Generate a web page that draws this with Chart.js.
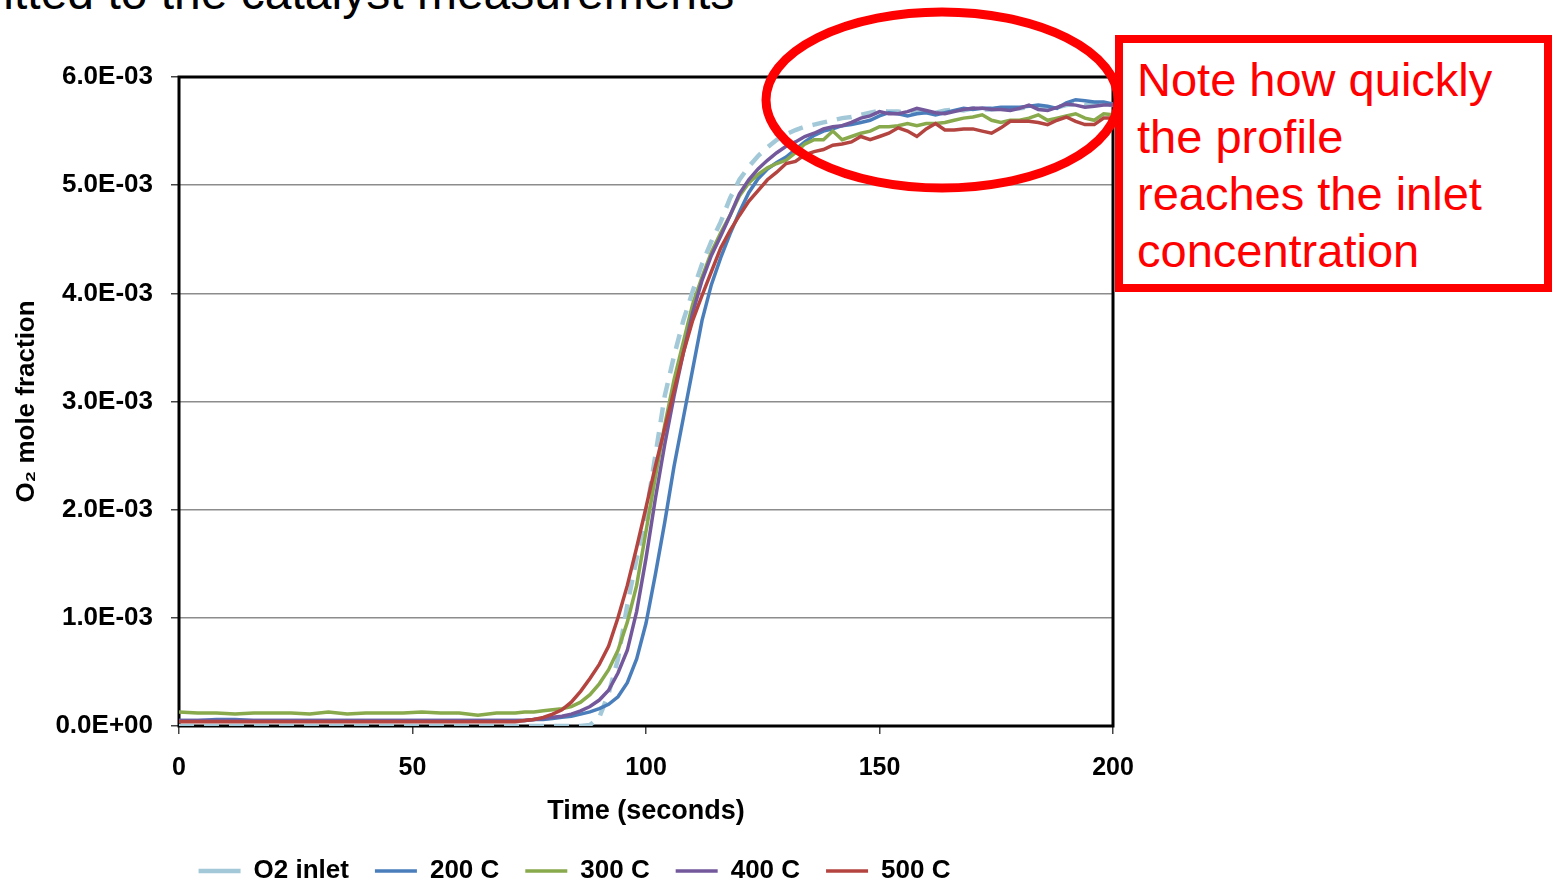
<!DOCTYPE html>
<html lang="en">
<head>
<meta charset="UTF-8">
<title>O2 mole fraction vs time</title>
<script src="https://cdn.jsdelivr.net/npm/chart.js"></script>
<style>
  html, body { margin: 0; padding: 0; background: #fff; overflow: hidden; }
  #wrap { position: relative; width: 1557px; height: 882px; overflow: hidden; }
  #chart { position: absolute; left: 0; top: 2px; }
  #over { position: absolute; left: 0; top: 0; pointer-events: none; }
  .cut {
    position: absolute; left: -10px; top: -35px; white-space: nowrap;
    font: 48px "Liberation Sans", Arial, sans-serif; color: #000;
  }
  .note {
    position: absolute; left: 1115px; top: 35px; width: 437px; height: 257px;
    box-sizing: border-box; border: 8px solid #f00; background: #fff;
    padding: 8px 0 0 14px;
    font: 47px/57px "Liberation Sans", Arial, sans-serif; color: #f00;
  }
</style>
</head>
<body>
<div id="wrap">
  <div class="cut">fitted to the catalyst measurements</div>
  <canvas id="chart" width="1557" height="892"></canvas>
  <svg id="over" width="1557" height="882">
    <ellipse cx="942" cy="100" rx="176" ry="88" fill="none" stroke="#f00" stroke-width="9"/>
  </svg>
  <div class="note">Note how quickly<br>the profile<br>reaches the inlet<br>concentration</div>
</div>

<script>
    // time in seconds; values in units of 1E-03 mole fraction
    const time = [
        0, 4, 8, 12, 16, 20, 24, 28, 32, 36, 40, 44, 48, 52, 56, 60, 64, 68, 72,
        74, 76, 78, 80, 82, 84, 86, 88, 90, 92,
        94, 96, 98, 100, 102, 104, 106, 108, 110, 112,
        114, 116, 118, 120, 122, 124, 126, 128, 130, 132,
        134, 136, 138, 140, 142, 144, 146, 148, 150, 152,
        154, 156, 158, 160, 162, 164, 166, 168, 170, 172,
        174, 176, 178, 180, 182, 184, 186, 188, 190, 192,
        194, 196, 198, 200
    ];

    const o2Inlet = [
        0, 0, 0, 0, 0, 0, 0, 0, 0, 0, 0, 0, 0, 0, 0, 0, 0, 0, 0,
        0, 0, 0, 0, 0, 0, 0, 0.01, 0.08, 0.30,
        0.62, 1.12, 1.55, 1.95, 2.50, 3.05, 3.42, 3.75, 4.02, 4.27,
        4.48, 4.66, 4.88, 5.05, 5.17, 5.27, 5.35, 5.42, 5.47, 5.51,
        5.54, 5.56, 5.58, 5.60, 5.62, 5.63, 5.65, 5.67, 5.69, 5.68,
        5.68, 5.67, 5.69, 5.68, 5.67, 5.69, 5.70, 5.69, 5.71, 5.70,
        5.70, 5.71, 5.71, 5.71, 5.72, 5.72, 5.71, 5.72, 5.74, 5.75,
        5.74, 5.74, 5.75, 5.74
    ];

    const c200 = [
        0.05, 0.05, 0.06, 0.06, 0.05, 0.05, 0.05, 0.05, 0.05, 0.05, 0.05, 0.05, 0.05, 0.05, 0.05, 0.05, 0.05, 0.05, 0.05,
        0.05, 0.06, 0.06, 0.07, 0.08, 0.09, 0.11, 0.13, 0.16, 0.20,
        0.27, 0.40, 0.62, 0.95, 1.40, 1.88, 2.40, 2.85, 3.30, 3.75,
        4.08, 4.33, 4.55, 4.75, 4.93, 5.06, 5.15, 5.21, 5.26, 5.33,
        5.40, 5.46, 5.50, 5.52, 5.55, 5.56, 5.58, 5.60, 5.64, 5.67,
        5.66, 5.64, 5.66, 5.67, 5.65, 5.67, 5.69, 5.71, 5.70, 5.71,
        5.71, 5.72, 5.72, 5.72, 5.73, 5.74, 5.73, 5.71, 5.76, 5.79,
        5.78, 5.77, 5.77, 5.75
    ];

    const c300 = [
        0.13, 0.12, 0.12, 0.11, 0.12, 0.12, 0.12, 0.11, 0.13, 0.11, 0.12, 0.12, 0.12, 0.13, 0.12, 0.12, 0.10, 0.12, 0.12,
        0.13, 0.13, 0.14, 0.15, 0.16, 0.18, 0.22, 0.29, 0.39, 0.52,
        0.70, 0.96, 1.30, 1.80, 2.30, 2.78, 3.20, 3.55, 3.90, 4.15,
        4.38, 4.56, 4.72, 4.90, 5.02, 5.10, 5.16, 5.20, 5.23, 5.30,
        5.38, 5.42, 5.42, 5.50, 5.42, 5.45, 5.48, 5.50, 5.54, 5.54,
        5.55, 5.57, 5.55, 5.57, 5.57, 5.58, 5.60, 5.62, 5.63, 5.65,
        5.60, 5.58, 5.60, 5.60, 5.62, 5.65, 5.60, 5.62, 5.64, 5.66,
        5.62, 5.60, 5.66, 5.65
    ];

    const c400 = [
        0.05, 0.05, 0.05, 0.05, 0.05, 0.05, 0.05, 0.05, 0.05, 0.05, 0.05, 0.05, 0.05, 0.05, 0.05, 0.05, 0.05, 0.05, 0.05,
        0.05, 0.06, 0.07, 0.08, 0.09, 0.11, 0.14, 0.18, 0.24, 0.33,
        0.49, 0.70, 1.06, 1.55, 2.10, 2.60, 3.05, 3.45, 3.82, 4.12,
        4.35, 4.53, 4.72, 4.92, 5.05, 5.15, 5.23, 5.30, 5.36, 5.40,
        5.45, 5.48, 5.52, 5.54, 5.55, 5.58, 5.62, 5.64, 5.68, 5.66,
        5.66, 5.68, 5.71, 5.69, 5.67, 5.66, 5.68, 5.70, 5.71, 5.71,
        5.70, 5.70, 5.69, 5.71, 5.74, 5.70, 5.69, 5.72, 5.75, 5.74,
        5.72, 5.73, 5.74, 5.74
    ];

    const c500 = [
        0.04, 0.04, 0.04, 0.04, 0.04, 0.04, 0.04, 0.04, 0.04, 0.04, 0.04, 0.04, 0.04, 0.04, 0.04, 0.04, 0.04, 0.04, 0.04,
        0.05, 0.06, 0.08, 0.11, 0.15, 0.22, 0.32, 0.44, 0.57, 0.74,
        1.00, 1.30, 1.65, 2.02, 2.40, 2.75, 3.10, 3.45, 3.75, 3.98,
        4.20, 4.42, 4.58, 4.72, 4.85, 4.95, 5.05, 5.12, 5.20, 5.22,
        5.28, 5.31, 5.33, 5.37, 5.38, 5.40, 5.45, 5.42, 5.45, 5.48,
        5.53, 5.50, 5.45, 5.52, 5.57, 5.51, 5.51, 5.52, 5.52, 5.50,
        5.48, 5.53, 5.59, 5.59, 5.59, 5.58, 5.56, 5.60, 5.63, 5.59,
        5.56, 5.56, 5.62, 5.62
    ];

    const seriesNames = ['O2 inlet', '200 C', '300 C', '400 C', '500 C'];
    const seriesColors = ['#A3C9D9', '#4A7EBB', '#88A94C', '#73589C', '#B4443F'];
    const yTicks = [0, 1, 2, 3, 4, 5, 6];

    const FONT = '"Liberation Sans", Arial, sans-serif';

    const puntos = arr => arr.map((v, i) => ({ x: time[i], y: v / 1000 }));

    const marco = {
        id: 'marco',
        afterLayout(chart) {
            // la leyenda del original esta algo corrida a la derecha
            chart.legend.left += 18;
            chart.legend.right += 18;
        },
        beforeDatasetsDraw(chart) {
            const { ctx, chartArea: a } = chart;
            ctx.save();
            ctx.strokeStyle = '#000';
            ctx.lineWidth = 3;
            ctx.strokeRect(a.left, a.top, a.right - a.left, a.bottom - a.top);
            ctx.restore();
        }
    };

    const datasets = [o2Inlet, c200, c300, c400, c500].map((arr, i) => ({
        label: seriesNames[i],
        data: puntos(arr),
        borderColor: seriesColors[i],
        backgroundColor: seriesColors[i],
        borderWidth: i === 0 ? 4.5 : 3.5,
        borderDash: i === 0 ? [15, 10] : [],
        pointRadius: 0,
        tension: 0,
        order: 5 - i
    }));

    new Chart(document.getElementById('chart'), {
        type: 'line',
        data: { datasets },
        options: {
            responsive: false,
            animation: false,
            devicePixelRatio: 1,
            layout: { padding: { top: 75, right: 444, left: 0, bottom: 0 } },
            plugins: {
                tooltip: { enabled: false },
                legend: {
                    position: 'bottom',
                    labels: {
                        usePointStyle: true,
                        pointStyle: 'line',
                        pointStyleWidth: 42,
                        padding: 26,
                        color: '#000',
                        font: { family: FONT, size: 26, weight: 'bold' },
                        sort: (a, b) => a.datasetIndex - b.datasetIndex
                    }
                }
            },
            scales: {
                x: {
                    type: 'linear',
                    min: 0,
                    max: 200,
                    afterFit(s) { s.height = 106; },
                    ticks: {
                        stepSize: 50,
                        maxRotation: 0,
                        padding: 19,
                        color: '#000',
                        font: { family: FONT, size: 25, weight: 'bold' }
                    },
                    grid: { drawOnChartArea: false, tickLength: 8, tickColor: '#444', lineWidth: 1.5 },
                    border: { display: false },
                    title: {
                        display: true,
                        text: 'Time (seconds)',
                        color: '#000',
                        padding: { top: 0, bottom: 4 },
                        font: { family: FONT, size: 27, weight: 'bold' }
                    }
                },
                y: {
                    min: 0,
                    max: 0.006,
                    afterFit(s) { s.width = 179; },
                    afterBuildTicks(s) { s.ticks = yTicks.map(v => ({ value: v / 1000 })); },
                    ticks: {
                        padding: 18,
                        color: '#000',
                        font: { family: FONT, size: 26, weight: 'bold' },
                        callback: v => v === 0 ? '0.0E+00' : (v * 1000).toFixed(1) + 'E-03'
                    },
                    grid: { color: '#8c8c8c', lineWidth: 1.5, tickLength: 8, tickColor: '#444' },
                    border: { display: false },
                    title: {
                        display: true,
                        text: 'O₂ mole fraction',
                        color: '#000',
                        padding: { top: 11, bottom: 0 },
                        font: { family: FONT, size: 26, weight: 'bold' }
                    }
                }
            }
        },
        plugins: [marco]
    });
</script>
</body>
</html>
